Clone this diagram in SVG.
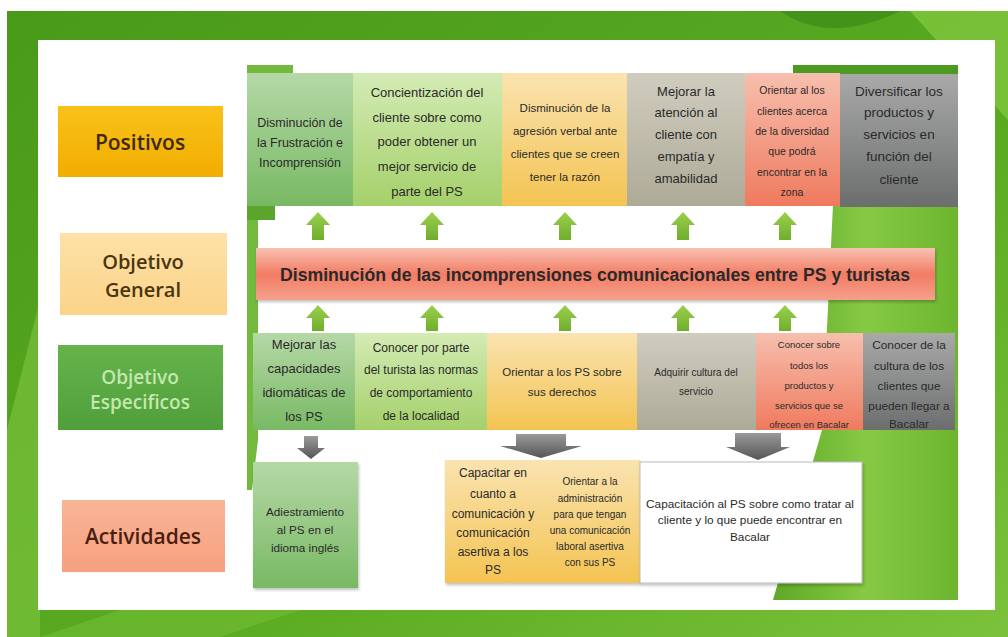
<svg xmlns="http://www.w3.org/2000/svg" width="1008" height="637" viewBox="0 0 1008 637">
<defs>
<linearGradient id="gBg" x1="0" y1="0" x2="1" y2="1"><stop offset="0" stop-color="#4a9a1a"/><stop offset="0.6" stop-color="#5aab22"/><stop offset="1" stop-color="#7cc23c"/></linearGradient>
<linearGradient id="gRight" x1="0" y1="0" x2="1" y2="0"><stop offset="0" stop-color="#5ea825"/><stop offset="0.5" stop-color="#86c945"/><stop offset="1" stop-color="#6db52f"/></linearGradient>
<linearGradient id="gPos" x1="0" y1="0" x2="0" y2="1"><stop offset="0" stop-color="#f8c21a"/><stop offset="1" stop-color="#f2ad00"/></linearGradient>
<linearGradient id="gGen" x1="0" y1="0" x2="0" y2="1"><stop offset="0" stop-color="#fde2a6"/><stop offset="1" stop-color="#fbd389"/></linearGradient>
<linearGradient id="gEsp" x1="0" y1="0" x2="0" y2="1"><stop offset="0" stop-color="#66b34c"/><stop offset="1" stop-color="#4f9f3a"/></linearGradient>
<linearGradient id="gAct" x1="0" y1="0" x2="0" y2="1"><stop offset="0" stop-color="#f9b596"/><stop offset="1" stop-color="#f6a080"/></linearGradient>
<linearGradient id="c1" x1="0" y1="0" x2="0" y2="1"><stop offset="0" stop-color="#b5d8a6"/><stop offset="1" stop-color="#78b963"/></linearGradient>
<linearGradient id="c2" x1="0" y1="0" x2="0" y2="1"><stop offset="0" stop-color="#d4ebb4"/><stop offset="1" stop-color="#a4d06a"/></linearGradient>
<linearGradient id="c3" x1="0" y1="0" x2="0" y2="1"><stop offset="0" stop-color="#fae3b0"/><stop offset="1" stop-color="#f4c452"/></linearGradient>
<linearGradient id="c4" x1="0" y1="0" x2="0" y2="1"><stop offset="0" stop-color="#d0cdbf"/><stop offset="1" stop-color="#aeaa98"/></linearGradient>
<linearGradient id="c5" x1="0" y1="0" x2="0" y2="1"><stop offset="0" stop-color="#f7bfae"/><stop offset="1" stop-color="#ef7a5e"/></linearGradient>
<linearGradient id="c6" x1="0" y1="0" x2="0" y2="1"><stop offset="0" stop-color="#a9a9a9"/><stop offset="1" stop-color="#6c6e6e"/></linearGradient>
<linearGradient id="gBar" x1="0" y1="0" x2="0" y2="1"><stop offset="0" stop-color="#f9c1b3"/><stop offset="0.5" stop-color="#f27c63"/><stop offset="1" stop-color="#f5a08c"/></linearGradient>
<linearGradient id="gUp" x1="0" y1="0" x2="0" y2="1"><stop offset="0" stop-color="#9bd04e"/><stop offset="1" stop-color="#6fae2c"/></linearGradient>
<linearGradient id="gDown" x1="0" y1="0" x2="0" y2="1"><stop offset="0" stop-color="#9a9a9a"/><stop offset="1" stop-color="#555"/></linearGradient>
<filter id="sh" x="-5%" y="-5%" width="110%" height="115%"><feDropShadow dx="1" dy="2" stdDeviation="1.5" flood-color="#000" flood-opacity="0.25"/></filter>
<style>
.lbl{font-family:"Open Sans","Liberation Sans",sans-serif;font-weight:600;text-anchor:middle}
.t{font-family:"Liberation Sans",Arial,sans-serif;text-anchor:middle;fill:#2a2a2a}
.up{fill:url(#gUp)}
.dn{fill:url(#gDown)}
</style>
</defs>

<!-- background -->
<rect x="0" y="0" width="1008" height="637" fill="#ffffff"/>
<rect x="7" y="11" width="1001" height="626" fill="url(#gBg)"/>
<path d="M780,11 Q830,45 900,11 Z" fill="#3c8a17" opacity="0.7"/>
<path d="M910,11 L1008,11 L1008,120 Z" fill="#8cd046" opacity="0.6"/>
<path d="M7,430 L40,300 L40,637 L7,637 Z" fill="#8fd04c" opacity="0.45"/>
<path d="M40,637 L120,610 L300,610 L220,637 Z" fill="#7fc640" opacity="0.4"/>
<rect x="38" y="40" width="957" height="570" fill="#ffffff"/>

<!-- theme shapes inside panel -->
<path d="M793,65 L958,65 L958,600 L773,600 L822,430 L833,205 L835,74 L793,74 Z" fill="url(#gRight)"/>
<path d="M793,65 L958,65 L958,74 L793,74 Z" fill="#4d9a22"/>
<path d="M247,65 L293,65 L293,73 L258,73 L258,440 L252,490 L247,490 Z" fill="#72b93d"/>
<rect x="247" y="205" width="28" height="15" fill="#5aa52c"/>

<!-- row labels -->
<g id="label-positivos">
<rect x="58" y="106" width="165" height="71" fill="url(#gPos)"/>
<text class="lbl" x="140" y="150" font-size="21" fill="#3d2a05">Positivos</text>
</g>
<g id="label-general">
<rect x="60" y="233" width="167" height="82" fill="url(#gGen)"/>
<text class="lbl" x="143" y="269" font-size="20" fill="#4a3510">Objetivo</text>
<text class="lbl" x="143" y="297" font-size="20" fill="#4a3510">General</text>
</g>
<g id="label-especificos">
<rect x="58" y="345" width="165" height="85" fill="url(#gEsp)"/>
<text class="lbl" x="140" y="384" font-size="19" font-weight="400" fill="#c3e8ae">Objetivo</text>
<text class="lbl" x="140" y="409" font-size="19" font-weight="400" fill="#c3e8ae">Especificos</text>
</g>
<g id="label-actividades">
<rect x="62" y="500" width="163" height="72" fill="url(#gAct)"/>
<text class="lbl" x="143" y="544" font-size="21" fill="#4a1e10">Actividades</text>
</g>

<!-- Positivos row -->
<g id="pos1">
<rect x="247" y="73" width="106" height="133" fill="url(#c1)"/>
<text class="t" font-size="12.5" fill="#23401a"><tspan x="300" y="127">Disminución de</tspan><tspan x="300" y="147">la Frustración e</tspan><tspan x="300" y="167">Incomprensión</tspan></text>
</g>
<g id="pos2">
<rect x="353" y="73" width="149" height="133" fill="url(#c2)"/>
<text class="t" font-size="13" fill="#2b3a12"><tspan x="427" y="97">Concientización del</tspan><tspan x="427" y="122">cliente sobre como</tspan><tspan x="427" y="146">poder obtener un</tspan><tspan x="427" y="171">mejor servicio de</tspan><tspan x="427" y="196">parte del PS</tspan></text>
</g>
<g id="pos3">
<rect x="502" y="73" width="125" height="133" fill="url(#c3)"/>
<text class="t" font-size="11.5" fill="#4a3510"><tspan x="565" y="112">Disminución de la</tspan><tspan x="565" y="135">agresión verbal ante</tspan><tspan x="565" y="158">clientes que se creen</tspan><tspan x="565" y="181">tener la razón</tspan></text>
</g>
<g id="pos4">
<rect x="627" y="73" width="118" height="133" fill="url(#c4)"/>
<text class="t" font-size="13" fill="#2e2e2e"><tspan x="686" y="96">Mejorar la</tspan><tspan x="686" y="117">atención al</tspan><tspan x="686" y="139">cliente con</tspan><tspan x="686" y="161">empatía y</tspan><tspan x="686" y="183">amabilidad</tspan></text>
</g>
<g id="pos5">
<rect x="745" y="73" width="95" height="133" fill="url(#c5)"/>
<text class="t" font-size="10.5" fill="#4a1a12"><tspan x="792" y="94">Orientar al los</tspan><tspan x="792" y="115">clientes acerca</tspan><tspan x="792" y="135">de la diversidad</tspan><tspan x="792" y="155">que podrá</tspan><tspan x="792" y="176">encontrar en la</tspan><tspan x="792" y="196">zona</tspan></text>
</g>
<g id="pos6">
<rect x="840" y="74" width="118" height="133" fill="url(#c6)"/>
<text class="t" font-size="13.5" fill="#1f1f1f"><tspan x="899" y="96">Diversificar los</tspan><tspan x="899" y="117">productos y</tspan><tspan x="899" y="139">servicios en</tspan><tspan x="899" y="161">función del</tspan><tspan x="899" y="184">cliente</tspan></text>
</g>

<!-- Objetivo general -->
<g id="general">
<rect x="256" y="248" width="679" height="52" fill="url(#gBar)" filter="url(#sh)"/>
<text class="t" x="595" y="281" font-size="18" font-weight="bold" fill="#3a1a10" textLength="630" lengthAdjust="spacingAndGlyphs">Disminución de las incomprensiones comunicacionales entre PS y turistas</text>
</g>

<!-- Especificos row -->
<g id="esp1">
<rect x="253" y="333" width="102" height="97" fill="url(#c1)"/>
<text class="t" font-size="13" fill="#23401a"><tspan x="304" y="349">Mejorar las</tspan><tspan x="304" y="373">capacidades</tspan><tspan x="304" y="397">idiomáticas de</tspan><tspan x="304" y="421">los PS</tspan></text>
</g>
<g id="esp2">
<rect x="355" y="333" width="132" height="97" fill="url(#c2)"/>
<text class="t" font-size="12" fill="#2b3a12"><tspan x="421" y="352">Conocer por parte</tspan><tspan x="421" y="374">del turista las normas</tspan><tspan x="421" y="397">de comportamiento</tspan><tspan x="421" y="420">de la localidad</tspan></text>
</g>
<g id="esp3">
<rect x="487" y="333" width="150" height="97" fill="url(#c3)"/>
<text class="t" font-size="11.5" fill="#4a3510"><tspan x="562" y="376">Orientar a los PS sobre</tspan><tspan x="562" y="396">sus derechos</tspan></text>
</g>
<g id="esp4">
<rect x="637" y="333" width="119" height="97" fill="url(#c4)"/>
<text class="t" font-size="10" fill="#2e2e2e"><tspan x="696" y="376">Adquirir cultura del</tspan><tspan x="696" y="395">servicio</tspan></text>
</g>
<g id="esp5">
<rect x="756" y="333" width="107" height="97" fill="url(#c5)"/>
<text class="t" font-size="9.5" fill="#7a1a10"><tspan x="809" y="348">Conocer sobre</tspan><tspan x="809" y="369">todos los</tspan><tspan x="809" y="389">productos y</tspan><tspan x="809" y="409">servicios que se</tspan><tspan x="809" y="428">ofrecen en Bacalar</tspan></text>
</g>
<g id="esp6">
<rect x="863" y="333" width="92" height="97" fill="url(#c6)"/>
<text class="t" font-size="11.8" fill="#1b2440"><tspan x="909" y="349">Conocer de la</tspan><tspan x="909" y="370">cultura de los</tspan><tspan x="909" y="390">clientes que</tspan><tspan x="909" y="410">pueden llegar a</tspan><tspan x="909" y="428">Bacalar</tspan></text>
</g>

<!-- Actividades -->
<g id="act1">
<rect x="253" y="462" width="105" height="126" fill="url(#c1)" filter="url(#sh)"/>
<text class="t" font-size="11.7" fill="#23401a"><tspan x="305" y="516">Adiestramiento</tspan><tspan x="305" y="534">al PS en el</tspan><tspan x="305" y="552">idioma inglés</tspan></text>
</g>
<g id="act2">
<rect x="445" y="460" width="195" height="123" fill="url(#c3)" filter="url(#sh)"/>
<text class="t" font-size="12" fill="#3a2a08"><tspan x="493" y="477">Capacitar en</tspan><tspan x="493" y="498">cuanto a</tspan><tspan x="493" y="518">comunicación y</tspan><tspan x="493" y="537">comunicación</tspan><tspan x="493" y="556">asertiva a los</tspan><tspan x="493" y="574">PS</tspan></text>
<text class="t" font-size="10" fill="#3a2a08"><tspan x="590" y="485">Orientar a la</tspan><tspan x="590" y="502">administración</tspan><tspan x="590" y="518">para que tengan</tspan><tspan x="590" y="534">una comunicación</tspan><tspan x="590" y="550">laboral asertiva</tspan><tspan x="590" y="566">con sus PS</tspan></text>
</g>
<g id="act3">
<rect x="640" y="462" width="222" height="121" fill="#ffffff" stroke="#bbbbbb" stroke-width="1" filter="url(#sh)"/>
<text class="t" font-size="11.8" fill="#2a2a2a"><tspan x="750" y="508">Capacitación al PS sobre como tratar al</tspan><tspan x="750" y="524">cliente y lo que puede encontrar en</tspan><tspan x="750" y="541">Bacalar</tspan></text>
</g>

<!-- connectors -->
<g id="connectors">
<path class="up" d="M318,212 L330,225 L324,225 L324,240 L312,240 L312,225 L306,225 Z"/>
<path class="up" d="M432,212 L444,225 L438,225 L438,240 L426,240 L426,225 L420,225 Z"/>
<path class="up" d="M565,212 L577,225 L571,225 L571,240 L559,240 L559,225 L553,225 Z"/>
<path class="up" d="M683,212 L695,225 L689,225 L689,240 L677,240 L677,225 L671,225 Z"/>
<path class="up" d="M785,212 L797,225 L791,225 L791,240 L779,240 L779,225 L773,225 Z"/>
<path class="up" d="M318,305 L330,318 L324,318 L324,331 L312,331 L312,318 L306,318 Z"/>
<path class="up" d="M432,305 L444,318 L438,318 L438,331 L426,331 L426,318 L420,318 Z"/>
<path class="up" d="M565,305 L577,318 L571,318 L571,331 L559,331 L559,318 L553,318 Z"/>
<path class="up" d="M683,305 L695,318 L689,318 L689,331 L677,331 L677,318 L671,318 Z"/>
<path class="up" d="M785,305 L797,318 L791,318 L791,331 L779,331 L779,318 L773,318 Z"/>
<path class="dn" d="M304,436 L318,436 L318,448 L325,448 L311,459 L297,448 L304,448 Z"/>
<path class="dn" d="M516,434 L566,434 L566,446 L582,446 L541,458 L500,446 L516,446 Z"/>
<path class="dn" d="M735,433 L781,433 L781,447 L790,447 L758,460 L726,447 L735,447 Z"/>
</g>
</svg>
